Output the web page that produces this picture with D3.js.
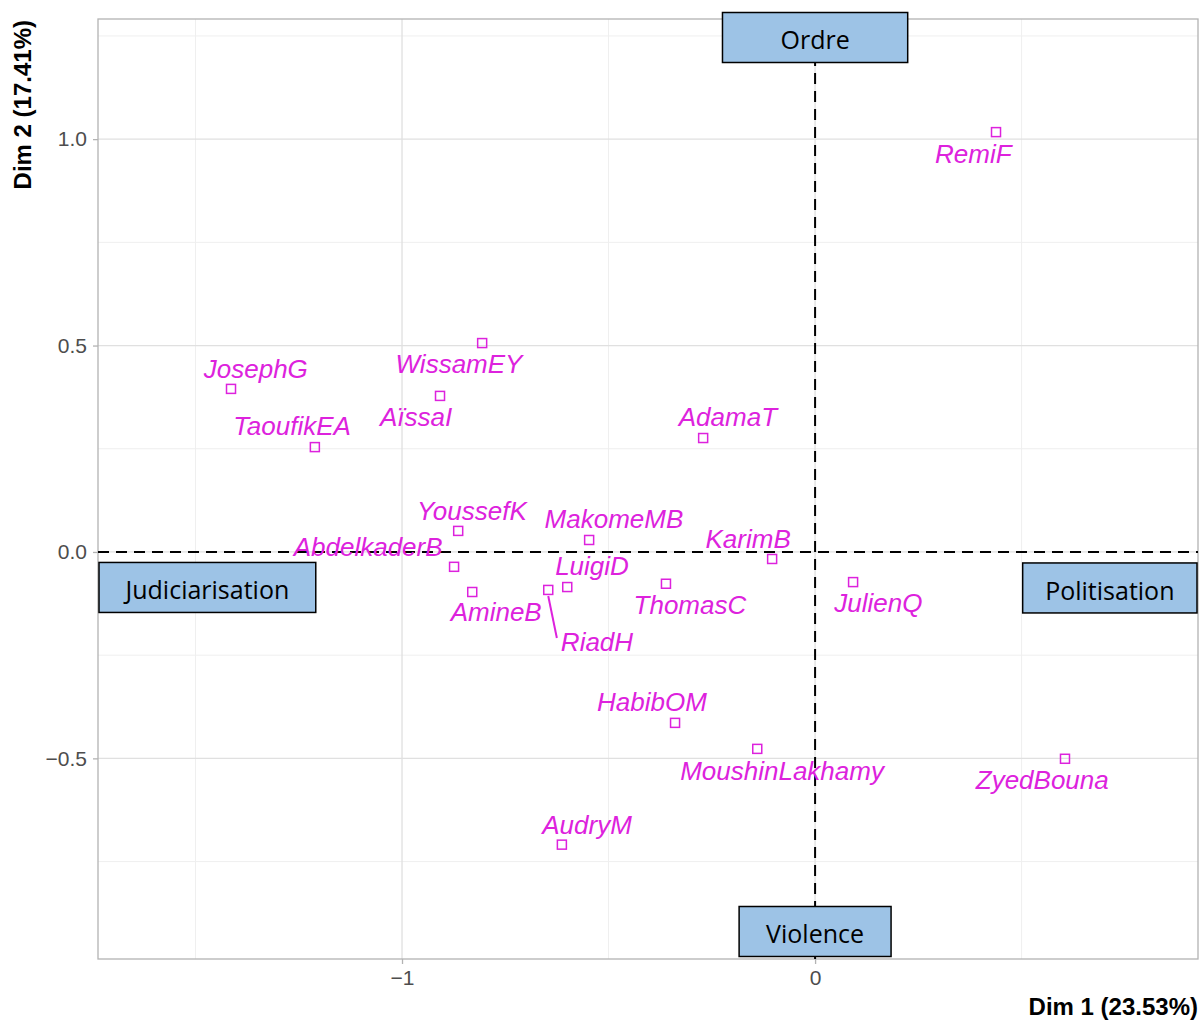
<!DOCTYPE html>
<html>
<head>
<meta charset="utf-8">
<script src="https://cdn.jsdelivr.net/npm/d3@7"></script>
<style>
  body { margin: 0; background: #fff; }
  svg { display: block; }
</style>
</head>
<body>
<div id="chart"></div>
<script>
// individuals (Dim 1, Dim 2)
const names = ["RemiF", "JosephG", "WissamEY", "AïssaI", "TaoufikEA", "AdamaT", "YoussefK",
  "MakomeMB", "AbdelkaderB", "LuigiD", "KarimB", "AmineB", "RiadH", "ThomasC", "JulienQ",
  "HabibOM", "MoushinLakhamy", "AudryM", "ZyedBouna"];
const dim1 = [0.438, -1.414, -0.806, -0.908, -1.211, -0.271, -0.864,
  -0.547, -0.874, -0.600, -0.104, -0.830, -0.646, -0.361, 0.092,
  -0.339, -0.140, -0.613, 0.605];
const dim2 = [1.017, 0.395, 0.506, 0.378, 0.254, 0.276, 0.051,
  0.029, -0.036, -0.085, -0.017, -0.097, -0.092, -0.077, -0.073,
  -0.414, -0.477, -0.709, -0.501];
// repelled label anchors (data units)
const labelX = [0.383, -1.354, -0.862, -0.966, -1.266, -0.211, -0.831,
  -0.487, -1.082, -0.540, -0.162, -0.772, -0.528, -0.303, 0.153,
  -0.395, -0.080, -0.552, 0.550];
const labelY = [0.964, 0.443, 0.455, 0.327, 0.305, 0.327, 0.099,
  0.080, 0.012, -0.034, 0.031, -0.145, -0.218, -0.128, -0.123,
  -0.363, -0.530, -0.661, -0.552];
const segmentLabels = ["RiadH"];

const xTicks = [-1, 0];
const yTicks = [-0.5, 0.0, 0.5, 1.0];
const xMinor = [-1.5, -0.5, 0.5];
const yMinor = [-0.75, -0.25, 0.25, 0.75, 1.25];

const xTitle = "Dim 1 (23.53%)";
const yTitle = "Dim 2 (17.41%)";

const poleNames = ["Ordre", "Violence", "Judiciarisation", "Politisation"];
const poleSides = ["top", "bottom", "left", "right"];

const W = 1201, H = 1021;
const panel = { left: 98, right: 1198, top: 19, bottom: 959 };
const PINK = "#dd22dd";

var svg = d3.select("#chart").append("svg").attr("width", W).attr("height", H);

var x = d3.scaleLinear().domain([-1.736, 0.927]).range([panel.left, panel.right]);
var y = d3.scaleLinear().domain([-0.986, 1.291]).range([panel.bottom, panel.top]);

// grid
var grid = svg.append("g");
grid.selectAll(".xminor").data(xMinor).enter().append("line")
  .attr("x1", (d) => x(d)).attr("x2", (d) => x(d))
  .attr("y1", panel.top).attr("y2", panel.bottom)
  .attr("stroke", "#efefef").attr("stroke-width", 1);
grid.selectAll(".yminor").data(yMinor).enter().append("line")
  .attr("y1", (d) => y(d)).attr("y2", (d) => y(d))
  .attr("x1", panel.left).attr("x2", panel.right)
  .attr("stroke", "#efefef").attr("stroke-width", 1);
grid.selectAll(".xmajor").data(xTicks).enter().append("line")
  .attr("x1", (d) => x(d)).attr("x2", (d) => x(d))
  .attr("y1", panel.top).attr("y2", panel.bottom)
  .attr("stroke", "#e0e0e0").attr("stroke-width", 1.3);
grid.selectAll(".ymajor").data(yTicks).enter().append("line")
  .attr("y1", (d) => y(d)).attr("y2", (d) => y(d))
  .attr("x1", panel.left).attr("x2", panel.right)
  .attr("stroke", "#e0e0e0").attr("stroke-width", 1.3);

// panel border
svg.append("rect")
  .attr("x", panel.left).attr("y", panel.top)
  .attr("width", panel.right - panel.left).attr("height", panel.bottom - panel.top)
  .attr("fill", "none").attr("stroke", "#b3b3b3").attr("stroke-width", 1.3);

// axes
var xAxis = d3.axisBottom(x).tickValues(xTicks).tickSize(5).tickPadding(6)
  .tickFormat((d) => (d < 0 ? "\u2212" : "") + Math.abs(d));
var yAxis = d3.axisLeft(y).tickValues(yTicks).tickSize(5).tickPadding(6)
  .tickFormat((d) => (d < 0 ? "\u2212" : "") + d3.format(".1f")(Math.abs(d)));

[svg.append("g").attr("transform", `translate(0,${panel.bottom})`).call(xAxis),
 svg.append("g").attr("transform", `translate(${panel.left},0)`).call(yAxis)].forEach((g) => {
  g.select(".domain").remove();
  g.selectAll(".tick line").attr("stroke", "#b3b3b3").attr("stroke-width", 1.3);
  g.selectAll(".tick text").attr("fill", "#4d4d4d")
    .style("font-family", "Liberation Sans, Arial, sans-serif").style("font-size", "21px");
});

// axis titles
svg.append("text")
  .attr("x", panel.right).attr("y", 1015)
  .attr("text-anchor", "end")
  .style("font-family", "Liberation Sans, Arial, sans-serif")
  .style("font-size", "24px").style("font-weight", "bold")
  .text(xTitle);
svg.append("text")
  .attr("transform", `translate(31,${panel.top + 1}) rotate(-90)`)
  .attr("text-anchor", "end")
  .style("font-family", "Liberation Sans, Arial, sans-serif")
  .style("font-size", "24px").style("font-weight", "bold")
  .text(yTitle);

// dashed reference lines
svg.append("line")
  .attr("x1", panel.left).attr("x2", panel.right)
  .attr("y1", y(0)).attr("y2", y(0))
  .attr("stroke", "#000").attr("stroke-width", 2).attr("stroke-dasharray", "11,7");
svg.append("line")
  .attr("x1", x(0)).attr("x2", x(0))
  .attr("y1", panel.top).attr("y2", panel.bottom)
  .attr("stroke", "#000").attr("stroke-width", 2).attr("stroke-dasharray", "11,7");

// points + labels
var pts = names.map((n, i) => ({ name: n, x: dim1[i], y: dim2[i], lx: labelX[i], ly: labelY[i] }));

var labels = svg.append("g").selectAll("text").data(pts).enter().append("text")
  .attr("x", (d) => x(d.lx)).attr("y", (d) => y(d.ly))
  .attr("dy", "0.35em")
  .attr("text-anchor", "middle")
  .attr("fill", PINK)
  .style("font-family", "Liberation Sans, Arial, sans-serif")
  .style("font-size", "26px").style("font-style", "italic")
  .text((d) => d.name);

// connector segments for labels pushed away
labels.filter((d) => segmentLabels.includes(d.name)).each(function (d) {
  var w = this.getComputedTextLength();
  var ex = x(d.lx) - w / 2 - 4, ey = y(d.ly) - 4;
  var sx = x(d.x), sy = y(d.y) + 6;
  svg.append("line")
    .attr("x1", sx).attr("y1", sy).attr("x2", ex).attr("y2", ey)
    .attr("stroke", PINK).attr("stroke-width", 2);
});

var S = 9;
svg.append("g").selectAll("rect").data(pts).enter().append("rect")
  .attr("x", (d) => x(d.x) - S / 2).attr("y", (d) => y(d.y) - S / 2)
  .attr("width", S).attr("height", S)
  .attr("fill", "none").attr("stroke", PINK).attr("stroke-width", 1.5);

// pole boxes (callouts pasted on the axes ends)
var boxH = 50;
var boxPad = { top: 58, bottom: 27, left: 26.5, right: 22.5 };
var boxes = svg.append("g").selectAll("g")
  .data(poleNames.map((n, i) => ({ name: n, side: poleSides[i] })))
  .enter().append("g");
boxes.each(function (d) {
  var g = d3.select(this);
  var t = g.append("text")
    .attr("text-anchor", "middle").attr("dy", "0.35em")
    .style("font-family", "Open Sans, Noto Sans, sans-serif")
    .style("font-size", "25px").attr("fill", "#000")
    .text(d.name);
  var w = t.node().getComputedTextLength() + boxPad[d.side] * 2;
  var cx, cy;
  if (d.side === "top") { cx = x(0); cy = panel.top + 18.5; }
  if (d.side === "bottom") { cx = x(0); cy = panel.bottom - 27.5; }
  if (d.side === "left") { cx = panel.left + 1 + w / 2; cy = y(0) + 35.5; }
  if (d.side === "right") { cx = panel.right - 1 - w / 2; cy = y(0) + 36; }
  g.insert("rect", "text")
    .attr("x", cx - w / 2).attr("y", cy - boxH / 2)
    .attr("width", w).attr("height", boxH)
    .attr("fill", "#9dc3e6").attr("stroke", "#000").attr("stroke-width", 1.5);
  t.attr("x", cx).attr("y", cy + 3);
});
</script>
</body>
</html>
